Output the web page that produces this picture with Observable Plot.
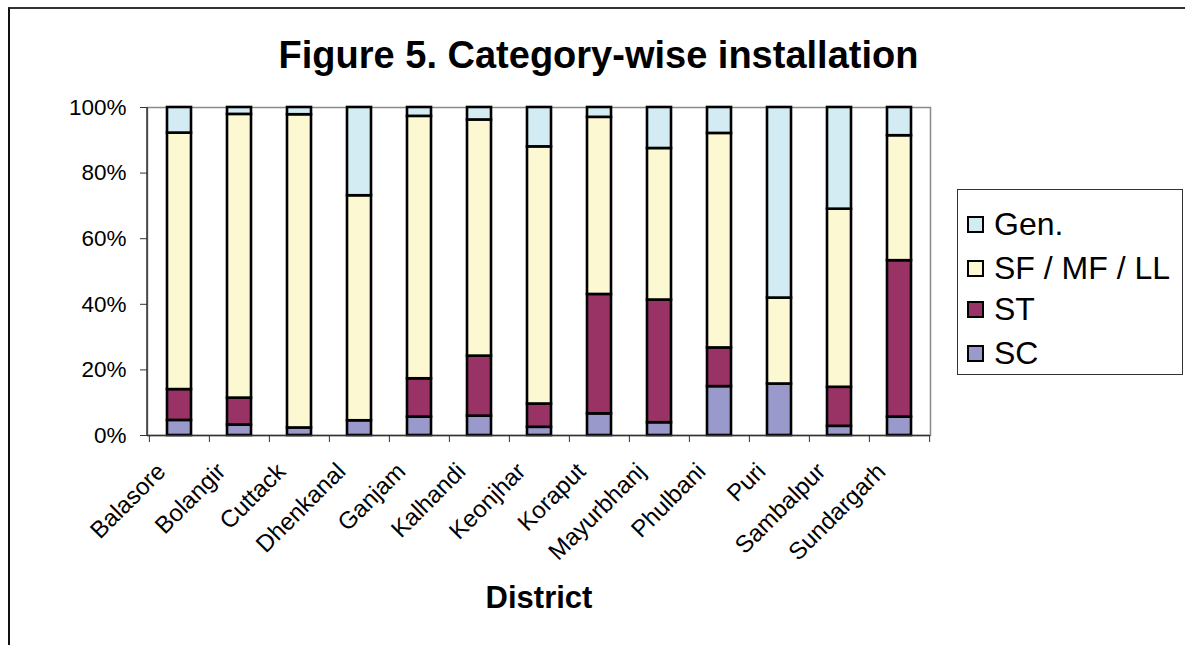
<!DOCTYPE html>
<html>
<head>
<meta charset="utf-8">
<script src="https://cdn.jsdelivr.net/npm/d3@7"></script>
<script src="https://cdn.jsdelivr.net/npm/@observablehq/plot@0.6"></script>
<style>
  html, body { margin: 0; padding: 0; background: #fff; }
  #wrap { position: relative; width: 1185px; height: 645px; overflow: hidden; font-family: "Liberation Sans", Arial, sans-serif; color: #000; }
  #border { position: absolute; left: 8px; top: 7px; width: 1190px; height: 650px; border-left: 2px solid #111; border-top: 2px solid #333; }
  #title { position: absolute; left: 0; width: 1197px; top: 33px; text-align: center; font-weight: bold; font-size: 38px; line-height: 44px; }
  #chart { position: absolute; left: 0; top: 0; }
  #legend { position: absolute; left: 957px; top: 189px; width: 226px; height: 186px; border: 1px solid #333; box-sizing: border-box; }
  .item { position: absolute; left: 9px; height: 40px; display: flex; align-items: center; font-size: 32px; white-space: nowrap; }
  .sw { width: 13px; height: 13px; border: 2px solid #000; margin-right: 10px; }
</style>
</head>
<body>
<div id="wrap">
  <div id="border"></div>
  <div id="title">Figure 5. Category-wise installation</div>
  <div id="chart"></div>
  <div id="legend"></div>
</div>
<script>
// Districts and the share (%) of each beneficiary category in installations
const districts = ["Balasore", "Bolangir", "Cuttack", "Dhenkanal", "Ganjam", "Kalhandi", "Keonjhar",
                   "Koraput", "Mayurbhanj", "Phulbani", "Puri", "Sambalpur", "Sundargarh"];
const sc     = [4.6, 3.2, 2.3, 4.5, 5.6, 5.9, 2.5, 6.6, 3.9, 14.9, 15.7, 2.8, 5.6];
const st     = [9.4, 8.2, 0.0, 0.0, 11.7, 18.3, 7.1, 36.4, 37.4, 11.8, 0.0, 11.9, 47.7];
const sfmfll = [78.2, 86.5, 95.5, 68.6, 80.0, 72.0, 78.4, 54.0, 46.2, 65.4, 26.2, 54.3, 38.1];
const gen    = [7.8, 2.1, 2.2, 26.9, 2.7, 3.8, 12.0, 3.0, 12.5, 7.9, 58.1, 31.0, 8.6];

// Stacking order, bottom to top
const categories = ["SC", "ST", "SF / MF / LL", "Gen."];
const series = [sc, st, sfmfll, gen];
const colors = {"SC": "#9999cc", "ST": "#993366", "SF / MF / LL": "#fcf9d2", "Gen.": "#d3ecf3"};
const legendOrder = ["Gen.", "SF / MF / LL", "ST", "SC"];
const yTicks = [0, 20, 40, 60, 80, 100];

const rows = [];
districts.forEach((d, i) => {
  categories.forEach((c, k) => rows.push({district: d, category: c, value: series[k][i]}));
});

const W = 1185, H = 645;
const mLeft = 147, mRight = 255, mTop = 107, mBottom = 210;
const step = (W - mLeft - mRight) / districts.length;

const chart = Plot.plot({
  width: W,
  height: H,
  marginLeft: mLeft,
  marginRight: mRight,
  marginTop: mTop,
  marginBottom: mBottom,
  style: {fontFamily: "'Liberation Sans', Arial, sans-serif", color: "#000", background: "transparent"},
  x: {domain: districts, paddingInner: 0.6, paddingOuter: 0.3, label: null},
  y: {domain: [0, 100], label: null},
  color: {domain: categories, range: categories.map(c => colors[c])},
  marks: [
    Plot.frame({stroke: "#8a8a8a", strokeWidth: 1.5}),
    Plot.axisY({ticks: yTicks, tickFormat: d => d + "%", tickSize: 7, tickPadding: 14, fontSize: 22.5, stroke: "#333", label: null}),
    // tick marks on the boundaries between districts
    Plot.axisX({tickSize: 7, dx: -step / 2, tickFormat: () => "", stroke: "#333", label: null}),
    Plot.axisX([districts[districts.length - 1]], {tickSize: 7, dx: step / 2, tickFormat: () => "", stroke: "#333", label: null}),
    // rotated district names
    Plot.axisX({tickSize: 0, tickRotate: -45, tickPadding: 32, dx: -18, fontSize: 24, label: null}),
    Plot.barY(rows, {x: "district", y: "value", fill: "category", stroke: "#000", strokeWidth: 2.6}),
    Plot.ruleY([0], {stroke: "#333", strokeWidth: 1.5}),
    Plot.text(["District"], {frameAnchor: "bottom", dy: 172, fontSize: 31, fontWeight: "bold"})
  ]
});
document.getElementById("chart").appendChild(chart);

// left axis line, darker than the rest of the frame
d3.select(chart).append("line")
  .attr("x1", mLeft).attr("x2", mLeft)
  .attr("y1", mTop).attr("y2", H - mBottom)
  .attr("stroke", "#333").attr("stroke-width", 1.5);

// legend
const legend = document.getElementById("legend");
const itemTops = [14, 58, 99, 143];
legendOrder.forEach((c, i) => {
  const el = document.createElement("div");
  el.className = "item";
  el.style.top = itemTops[i] + "px";
  const sw = document.createElement("span");
  sw.className = "sw";
  sw.style.background = colors[c];
  el.appendChild(sw);
  el.appendChild(document.createTextNode(c));
  legend.appendChild(el);
});
</script>
</body>
</html>
